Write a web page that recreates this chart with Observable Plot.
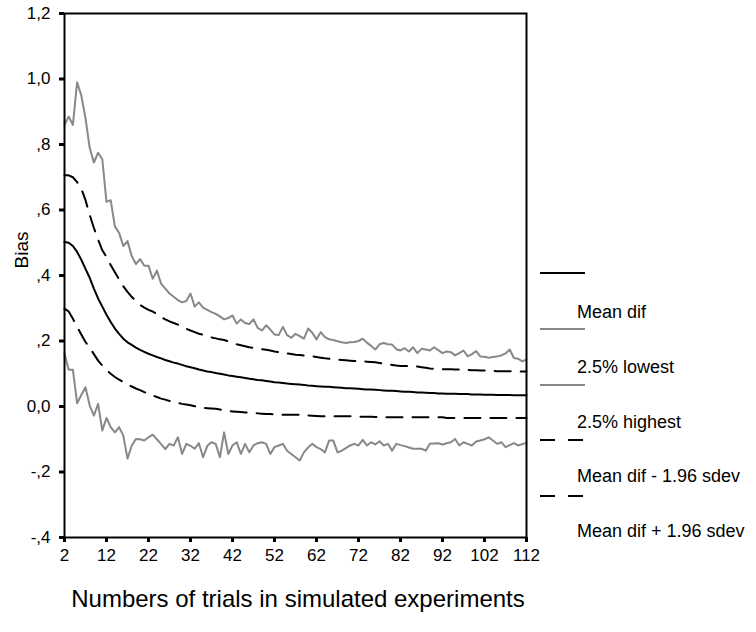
<!DOCTYPE html>
<html>
<head>
<meta charset="utf-8">
<script src="https://cdn.jsdelivr.net/npm/d3@7"></script>
<script src="https://cdn.jsdelivr.net/npm/@observablehq/plot@0.6"></script>
<style>
  html, body { margin: 0; padding: 0; background: #fff; }
  #chart { width: 756px; height: 632px; }
  svg { font-family: "Liberation Sans", Arial, sans-serif; }
</style>
</head>
<body>
<div id="chart"></div>
<script>
// ---- data ----
const trials = d3.range(2, 113); // 2 .. 112

const meanDif = [
0.502,0.500,0.490,0.472,0.448,0.420,0.393,0.360,0.330,0.305,
0.280,0.258,0.238,0.222,0.207,0.196,0.188,0.180,0.173,0.167,
0.161,0.156,0.151,0.147,0.142,0.138,0.134,0.131,0.127,0.123,
0.120,0.117,0.113,0.110,0.107,0.105,0.102,0.100,0.098,0.095,
0.093,0.091,0.089,0.087,0.085,0.083,0.081,0.080,0.078,0.076,
0.074,0.073,0.072,0.070,0.069,0.068,0.067,0.066,0.064,0.063,
0.062,0.061,0.060,0.060,0.059,0.058,0.057,0.056,0.056,0.055,
0.054,0.053,0.052,0.052,0.051,0.050,0.049,0.048,0.048,0.047,
0.046,0.045,0.045,0.044,0.043,0.043,0.042,0.041,0.041,0.040,
0.040,0.039,0.039,0.039,0.038,0.038,0.038,0.037,0.037,0.037,
0.036,0.036,0.036,0.035,0.035,0.035,0.035,0.034,0.034,0.034,
0.034];

const lowest25 = [
0.161,0.112,0.112,0.010,0.035,0.059,0.003,-0.028,0.008,-0.073,
-0.035,-0.063,-0.079,-0.063,-0.089,-0.159,-0.120,-0.099,-0.100,-0.104,
-0.094,-0.086,-0.100,-0.115,-0.130,-0.114,-0.119,-0.094,-0.145,-0.114,
-0.120,-0.129,-0.112,-0.155,-0.120,-0.109,-0.114,-0.155,-0.079,-0.145,
-0.119,-0.109,-0.145,-0.114,-0.140,-0.119,-0.112,-0.109,-0.114,-0.145,
-0.124,-0.119,-0.114,-0.135,-0.145,-0.155,-0.165,-0.140,-0.125,-0.114,
-0.124,-0.130,-0.140,-0.104,-0.104,-0.140,-0.135,-0.127,-0.119,-0.114,
-0.119,-0.102,-0.119,-0.109,-0.116,-0.106,-0.119,-0.114,-0.135,-0.114,
-0.118,-0.121,-0.125,-0.129,-0.129,-0.129,-0.135,-0.114,-0.113,-0.112,
-0.116,-0.112,-0.109,-0.099,-0.119,-0.109,-0.114,-0.119,-0.107,-0.104,
-0.100,-0.094,-0.104,-0.114,-0.109,-0.124,-0.118,-0.112,-0.119,-0.115,
-0.111];

const highest25 = [
0.860,0.885,0.860,0.990,0.950,0.880,0.790,0.745,0.775,0.755,
0.625,0.630,0.550,0.530,0.490,0.505,0.460,0.435,0.450,0.430,
0.430,0.390,0.415,0.375,0.360,0.345,0.335,0.325,0.318,0.322,
0.345,0.305,0.318,0.302,0.295,0.288,0.283,0.275,0.266,0.270,
0.278,0.253,0.266,0.255,0.252,0.266,0.240,0.232,0.248,0.235,
0.220,0.218,0.243,0.218,0.210,0.222,0.215,0.207,0.238,0.225,
0.205,0.227,0.212,0.205,0.203,0.199,0.196,0.194,0.196,0.197,
0.200,0.207,0.195,0.185,0.174,0.190,0.194,0.190,0.189,0.175,
0.171,0.178,0.168,0.181,0.163,0.176,0.174,0.171,0.181,0.172,
0.163,0.168,0.166,0.156,0.163,0.171,0.153,0.160,0.169,0.153,
0.152,0.149,0.151,0.153,0.156,0.162,0.174,0.148,0.146,0.138,
0.143];

const minus196 = [
0.299,0.290,0.268,0.243,0.220,0.197,0.180,0.160,0.140,0.125,
0.112,0.100,0.090,0.082,0.075,0.068,0.061,0.055,0.050,0.044,
0.039,0.034,0.029,0.024,0.021,0.017,0.014,0.011,0.008,0.006,
0.004,0.001,-0.002,-0.004,-0.005,-0.006,-0.007,-0.009,-0.012,-0.014,
-0.015,-0.016,-0.017,-0.018,-0.019,-0.020,-0.021,-0.022,-0.023,-0.023,
-0.024,-0.024,-0.025,-0.025,-0.025,-0.025,-0.025,-0.026,-0.027,-0.028,
-0.029,-0.030,-0.030,-0.030,-0.030,-0.030,-0.030,-0.030,-0.030,-0.030,
-0.031,-0.031,-0.031,-0.031,-0.032,-0.032,-0.032,-0.033,-0.033,-0.033,
-0.033,-0.033,-0.033,-0.033,-0.033,-0.033,-0.033,-0.033,-0.033,-0.033,
-0.033,-0.035,-0.035,-0.035,-0.035,-0.035,-0.035,-0.035,-0.035,-0.035,
-0.035,-0.035,-0.035,-0.035,-0.035,-0.035,-0.035,-0.035,-0.035,-0.035,
-0.035];

const plus196 = [
0.706,0.706,0.700,0.685,0.665,0.630,0.585,0.545,0.510,0.477,
0.457,0.432,0.410,0.388,0.367,0.350,0.335,0.322,0.310,0.302,
0.295,0.290,0.282,0.273,0.266,0.260,0.255,0.250,0.243,0.237,
0.232,0.227,0.222,0.219,0.215,0.211,0.208,0.205,0.203,0.199,
0.195,0.190,0.187,0.184,0.181,0.179,0.177,0.175,0.173,0.171,
0.168,0.166,0.164,0.162,0.160,0.158,0.157,0.156,0.155,0.153,
0.151,0.149,0.147,0.146,0.144,0.143,0.142,0.141,0.140,0.139,
0.138,0.138,0.137,0.136,0.135,0.133,0.131,0.129,0.127,0.125,
0.124,0.124,0.123,0.122,0.122,0.120,0.118,0.116,0.115,0.115,
0.114,0.114,0.114,0.113,0.113,0.112,0.112,0.111,0.111,0.110,
0.110,0.109,0.109,0.108,0.108,0.108,0.108,0.107,0.107,0.107,
0.107];

const xTicks = [2, 12, 22, 32, 42, 52, 62, 72, 82, 92, 102, 112];
const yTicks = [-0.4, -0.2, 0, 0.2, 0.4, 0.6, 0.8, 1.0, 1.2];
const yTickLabels = ["-,4", "-,2", "0,0", ",2", ",4", ",6", ",8", "1,0", "1,2"];
const xTitle = "Numbers of trials in simulated experiments";
const yTitle = "Bias";
const legendLabels = ["Mean dif", "2.5% lowest", "2.5% highest", "Mean dif - 1.96 sdev", "Mean dif + 1.96 sdev"];

// ---- build table ----
const series = [
  {name: legendLabels[0], values: meanDif,   stroke: "#000", dash: null},
  {name: legendLabels[1], values: lowest25,  stroke: "#888", dash: null},
  {name: legendLabels[2], values: highest25, stroke: "#888", dash: null},
  {name: legendLabels[3], values: minus196,  stroke: "#000", dash: "16,10"},
  {name: legendLabels[4], values: plus196,   stroke: "#000", dash: "16,10"}
];

const lineMarks = series.map(s =>
  Plot.line(trials.map((t, i) => ({t, v: s.values[i]})), {
    x: "t", y: "v", stroke: s.stroke, strokeWidth: 2,
    strokeDasharray: s.dash || undefined, curve: "linear"
  })
);

const plot = Plot.plot({
  width: 756,
  height: 632,
  marginLeft: 64,
  marginRight: 230,
  marginTop: 13,
  marginBottom: 95,
  style: {fontFamily: "'Liberation Sans', Arial, sans-serif", fontSize: "17px", color: "#000", background: "#fff"},
  x: {domain: [2, 112]},
  y: {domain: [-0.4, 1.2]},
  marks: [
    ...lineMarks,
    Plot.frame({stroke: "#000", strokeWidth: 2}),
    Plot.axisX({ticks: xTicks, tickSize: 5, tickPadding: 6, strokeWidth: 3, label: null, tickFormat: d => String(d), fontSize: 17}),
    Plot.axisY({ticks: yTicks, tickSize: 5, tickPadding: 9, strokeWidth: 3, label: null,
      tickFormat: d => yTickLabels[yTicks.findIndex(v => Math.abs(v - d) < 1e-9)], fontSize: 17})
  ]
});

document.getElementById("chart").appendChild(plot);

// ---- titles and legend ----
const svg = d3.select(plot);
svg.append("text")
  .attr("x", 298).attr("y", 607)
  .attr("text-anchor", "middle")
  .attr("font-size", 24)
  .attr("fill", "#000")
  .text(xTitle);

svg.append("text")
  .attr("transform", "translate(28,250) rotate(-90)")
  .attr("text-anchor", "middle")
  .attr("font-size", 19)
  .attr("fill", "#000")
  .text(yTitle);

const legendLineY = [273, 329, 385, 440, 496];
const legendTextY = [318, 373, 428, 482, 537];
const lg = svg.append("g").attr("text-anchor", "start");
series.forEach((s, i) => {
  lg.append("line")
    .attr("x1", 540).attr("x2", 585)
    .attr("y1", legendLineY[i]).attr("y2", legendLineY[i])
    .attr("stroke", s.stroke).attr("stroke-width", 2)
    .attr("stroke-dasharray", s.dash ? "15,13" : null);
  lg.append("text")
    .attr("x", 577).attr("y", legendTextY[i])
    .attr("text-anchor", "start")
    .attr("font-size", 18)
    .attr("fill", "#000")
    .text(s.name);
});
</script>
</body>
</html>
